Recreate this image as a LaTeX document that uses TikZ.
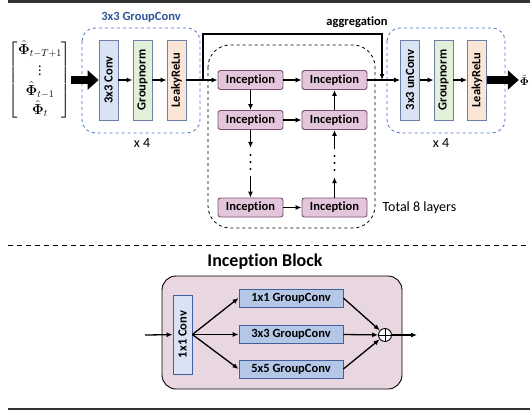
\documentclass[tikz,border=0pt]{standalone}
\usepackage{amsmath,amssymb}
\usepackage{fontspec}
\setmainfont[Ligatures=NoCommon]{Carlito}
\usetikzlibrary{arrows.meta}
\definecolor{convfill}{HTML}{DAE3F3}
\definecolor{gnfill}{HTML}{E2F0D9}
\definecolor{lrfill}{HTML}{FBE5D6}
\definecolor{stageborder}{HTML}{6B7FA8}
\definecolor{incfill}{HTML}{E3C6DB}
\definecolor{incborder}{HTML}{7B4F73}
\definecolor{gcfill}{HTML}{B4C7E7}
\definecolor{gcborder}{HTML}{41619C}
\definecolor{dashblue}{HTML}{4472C4}
\definecolor{titleblue}{HTML}{2F5597}
\definecolor{blockfill}{HTML}{E8D6E0}
\definecolor{rulegray}{HTML}{333333}
\tikzset{
  lbl/.style={font=\fontsize{12.5}{14}\selectfont\bfseries},
  stagebox/.style={draw=stageborder, line width=0.8pt, rotate=90, minimum width=80pt, minimum height=19pt, inner sep=0pt, lbl},
  incbox/.style={draw=incborder, fill=incfill, line width=0.9pt, rounded corners=2.5pt, minimum width=65pt, minimum height=19pt, inner sep=0pt, lbl},
  gcbox/.style={draw=gcborder, fill=gcfill, line width=0.8pt, minimum width=104pt, minimum height=18pt, inner sep=0pt, lbl},
  conn/.style={line width=1.3pt, -{Latex[length=6pt,width=5pt]}},
  plain/.style={line width=1.3pt},
  bigarrow/.style={line width=8pt, -{Triangle[length=11pt,width=19pt]}},
  groupbox/.style={draw=dashblue, dashed, line width=0.8pt, rounded corners=13pt},
  reg/.style={font=\fontsize{14}{16}\selectfont},
  dotsnode/.style={inner sep=0pt, minimum height=28pt, minimum width=6pt},
  dotmark/.style={fill=black, radius=1.1pt}
}
\begin{document}
\begin{tikzpicture}[x=1pt,y=-1pt]
\useasboundingbox (0,0) rectangle (530,413);
% rules
\draw[rulegray, line width=3pt] (8,1.5) -- (530,1.5);
\draw[rulegray, line width=2.5pt] (8,409) -- (530,409);
\draw[dashed, line width=0.9pt, dash pattern=on 5pt off 4pt] (8,245) -- (530,245);

% input matrix
\node[font=\fontsize{14}{16}\selectfont, inner sep=0pt] (inp) at (40,80)
  {$\left[\begin{matrix} \hat{\boldsymbol\Phi}_{t-T+1}\\[1pt] \vdots \\[1pt] \hat{\boldsymbol\Phi}_{t-1}\\[1pt] \hat{\boldsymbol\Phi}_t\end{matrix}\right]$};

% left group
\draw[groupbox] (82,28) rectangle (200,133);
\node[lbl, text=titleblue] (t1) at (141,17) {3x3 GroupConv};
\node[reg] (x1) at (142,143) {x 4};
\node[stagebox, fill=convfill] (c1) at (108.5,80) {3x3 Conv};
\node[stagebox, fill=gnfill] (g1) at (142.5,80) {Groupnorm};
\node[stagebox, fill=lrfill] (l1) at (176.5,80) {LeakyReLu};

% right group
\draw[groupbox] (387,28) rectangle (505,133);
\node[reg] (x2) at (441,143) {x 4};
\node[stagebox, fill=convfill] (c2) at (410,80) {3x3 unConv};
\node[stagebox, fill=gnfill] (g2) at (443.5,80) {Groupnorm};
\node[stagebox, fill=lrfill] (l2) at (477,80) {LeakyReLu};
\node[inner sep=0pt, font=\fontsize{11}{13}\selectfont] (out) at (524.5,80) {$\tilde{\boldsymbol\Phi}$};

% inception stack
\draw[dashed, line width=0.8pt, rounded corners=22pt] (208,45) rectangle (375,228);
\node[incbox] (a1) at (250.5,80) {Inception};
\node[incbox] (b1) at (334.5,80) {Inception};
\node[incbox] (a2) at (250.5,120) {Inception};
\node[incbox] (b2) at (334.5,120) {Inception};
\node[incbox] (a3) at (250.5,207.5) {Inception};
\node[incbox] (b3) at (334.5,207.5) {Inception};
\node[dotsnode] (da) at (250.5,162) {};
\node[dotsnode] (db) at (334.5,163) {};
\foreach \dy in {-7,0,7} {
  \fill[dotmark] ([yshift=\dy pt]da.center) circle;
  \fill[dotmark] ([yshift=\dy pt]db.center) circle;
}
\node[reg, anchor=west] (tot) at (379,208) {Total 8 layers};
\node[lbl] (agg) at (357,22) {aggregation};

% connectors top
\draw[bigarrow] (inp.east) -- (c1.north);
\draw[conn] (c1) -- (g1);
\draw[conn] (g1) -- (l1);
\draw[conn] (l1) -- (a1);
\coordinate (s1) at (203,80);
\coordinate (s2) at (203,34);
\coordinate (s3) at (382,34);
\coordinate (s4) at (382,80);
\draw[plain, -{Latex[length=6pt,width=5pt]}] (s1) -- (s2) -- (s3) -- (s4);
\draw[conn] (a1) -- (b1);
\draw[conn] (a1) -- (a2);
\draw[conn] (a2) -- (b2);
\draw[conn] (b2) -- (b1);
\draw[conn] (a2) -- (da.north);
\draw[conn] (da.south) -- (a3);
\draw[conn] (a3) -- (b3);
\draw[conn] (b3) -- (db.south);
\draw[conn] (db.north) -- (b2);
\draw[conn] (b1) -- (c2);
\draw[conn] (c2) -- (g2);
\draw[conn] (g2) -- (l2);
\draw[bigarrow] (l2.south) -- ([xshift=-1pt]out.west);

% inception block
\node[font=\fontsize{18}{20}\selectfont\bfseries] (ibt) at (265,262) {Inception Block};
\draw[fill=blockfill, line width=0.9pt, rounded corners=14pt] (162,276) rectangle (402,389);
\node[stagebox, fill=convfill, draw=gcborder, minimum width=79pt] (k1) at (182.5,334.5) {1x1 Conv};
\node[gcbox] (q1) at (291,298) {1x1 GroupConv};
\node[gcbox] (q2) at (291,334.5) {3x3 GroupConv};
\node[gcbox] (q3) at (291,369) {5x5 GroupConv};
\node[circle, draw, fill=white, line width=0.9pt, minimum size=13pt, inner sep=0pt] (p) at (385,335) {};
\draw[line width=0.9pt] (p.north) -- (p.south) (p.west) -- (p.east);
\coordinate (kin) at (145,335);
\coordinate (kout) at (417,335);
\draw[conn] (kin) -- (k1);
\draw[conn] (k1.south) -- (q1.west);
\draw[conn] (k1.south) -- (q2.west);
\draw[conn] (k1.south) -- (q3.west);
\draw[conn] (q1.east) -- (p);
\draw[conn] (q2.east) -- (p);
\draw[conn] (q3.east) -- (p);
\draw[conn] (p) -- (kout);
\end{tikzpicture}
\end{document}
